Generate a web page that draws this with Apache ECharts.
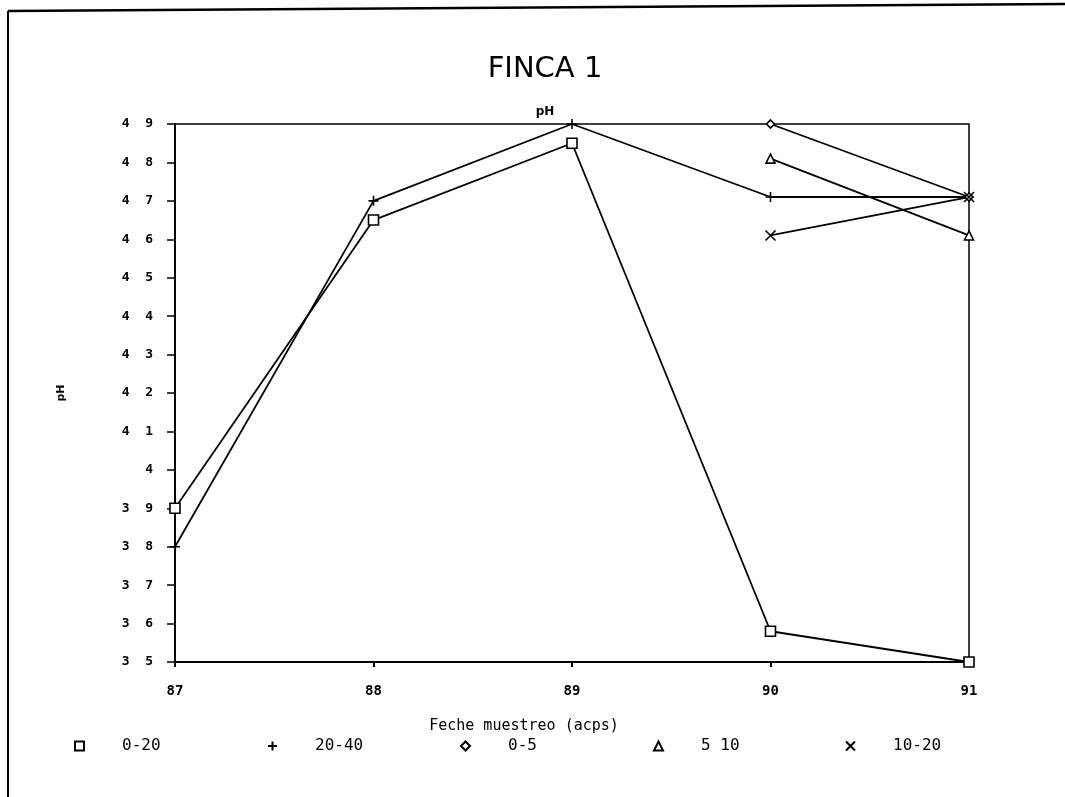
<!DOCTYPE html>
<html>
<head>
<meta charset="utf-8">
<script src="https://cdn.jsdelivr.net/npm/echarts@6/dist/echarts.min.js"></script>
<style>
  html, body { margin: 0; padding: 0; background: #fff; }
  #chart { width: 1065px; height: 797px; }
</style>
</head>
<body>
<div id="chart"></div>
<script>
// years of sampling
const years = ["87", "88", "89", "90", "91"];
// pH by depth
const depth0_20 = [3.9, 4.65, 4.85, 3.58, 3.5];
const depth20_40 = [3.8, 4.7, 4.9, 4.71, 4.71];
const depth0_5 = [null, null, null, 4.9, 4.71];
const depth5_10 = [null, null, null, 4.81, 4.61];
const depth10_20 = [null, null, null, 4.61, 4.71];
// y tick labels as printed (3.5 .. 4.9)
const yTickLabels = ["3  5", "3  6", "3  7", "3  8", "3  9", "4", "4  1", "4  2",
  "4  3", "4  4", "4  5", "4  6", "4  7", "4  8", "4  9"];

const plusPath = "path://M5,0L5,10M0,5L10,5";
const crossPath = "path://M0,0L10,10M10,0L0,10";

const mono = "DejaVu Sans Mono";

function line(name, data, symbol, size) {
  return {
    name: name,
    type: "line",
    data: data,
    symbol: symbol,
    symbolSize: size,
    showSymbol: true,
    connectNulls: false,
    lineStyle: { color: "#000", width: 1.8 },
    itemStyle: { color: "#fff", borderColor: "#000", borderWidth: 1.6 },
    emphasis: { disabled: true },
    z: 3,
  };
}

function legendAt(name, icon, left) {
  return {
    left: left,
    top: 738,
    padding: 0,
    data: [{ name: name, icon: icon }],
    itemWidth: 9,
    itemHeight: 9,
    selectedMode: false,
    textStyle: {
      color: "#000",
      fontFamily: mono,
      fontSize: 16,
      padding: [0, 0, 0, 33],
    },
  };
}

let myChart = echarts.init(document.getElementById("chart"));
myChart.setOption({
  backgroundColor: "#fff",
  animation: false,
  title: [
    {
      text: "FINCA 1",
      left: 540,
      top: 50,
      textAlign: "center",
      textStyle: {
        color: "#000",
        fontFamily: "DejaVu Sans",
        fontWeight: "normal",
        fontSize: 29,
      },
    },
    {
      text: "pH",
      left: 540,
      top: 101,
      textAlign: "center",
      textStyle: {
        color: "#000",
        fontFamily: "DejaVu Sans",
        fontWeight: "bold",
        fontSize: 12,
      },
    },
  ],
  graphic: [
    {
      type: "line",
      shape: { x1: 8, y1: 11, x2: 1065, y2: 4 },
      style: { stroke: "#000", lineWidth: 2.5 },
    },
    {
      type: "line",
      shape: { x1: 8, y1: 11, x2: 8, y2: 797 },
      style: { stroke: "#000", lineWidth: 2 },
    },
  ],
  legend: [
    legendAt("0-20", "rect", 74),
    legendAt("20-40", plusPath, 267),
    legendAt("0-5", "diamond", 460),
    legendAt("5 10", "triangle", 653),
    legendAt("10-20", crossPath, 845),
  ],
  grid: {
    left: 175,
    right: 96,
    top: 124,
    bottom: 135,
    show: true,
    borderColor: "#000",
    borderWidth: 1.5,
    containLabel: false,
  },
  xAxis: {
    type: "category",
    data: years,
    boundaryGap: false,
    name: "Feche muestreo (acps)",
    nameLocation: "middle",
    nameGap: 57,
    nameTextStyle: {
      color: "#000",
      fontFamily: mono,
      fontSize: 15,
      padding: [0, 96, 0, 0],
    },
    axisLine: { lineStyle: { color: "#000", width: 2 } },
    axisTick: { show: true, length: 5, inside: false, lineStyle: { color: "#000", width: 2 } },
    axisLabel: {
      color: "#000",
      fontFamily: mono,
      fontWeight: "bold",
      fontSize: 14,
      margin: 22,
    },
    splitLine: { show: false },
  },
  yAxis: {
    type: "value",
    min: 3.5,
    max: 4.9,
    interval: 0.1,
    name: "pH",
    nameLocation: "middle",
    nameGap: 108,
    nameTextStyle: {
      color: "#000",
      fontFamily: "DejaVu Sans",
      fontWeight: "bold",
      fontSize: 11,
    },
    axisLine: { show: true, lineStyle: { color: "#000", width: 2 } },
    axisTick: { show: true, length: 8, lineStyle: { color: "#000", width: 1.5 } },
    axisLabel: {
      color: "#000",
      fontFamily: mono,
      fontWeight: "bold",
      fontSize: 13,
      margin: 22,
      formatter: function (v) {
        return yTickLabels[Math.round((v - 3.5) * 10)];
      },
    },
    splitLine: { show: false },
  },
  series: [
    line("0-20", depth0_20, "rect", 10),
    line("20-40", depth20_40, plusPath, 10),
    line("0-5", depth0_5, "diamond", 8),
    line("5 10", depth5_10, "triangle", 9),
    line("10-20", depth10_20, crossPath, 10),
  ],
});
</script>
</body>
</html>
